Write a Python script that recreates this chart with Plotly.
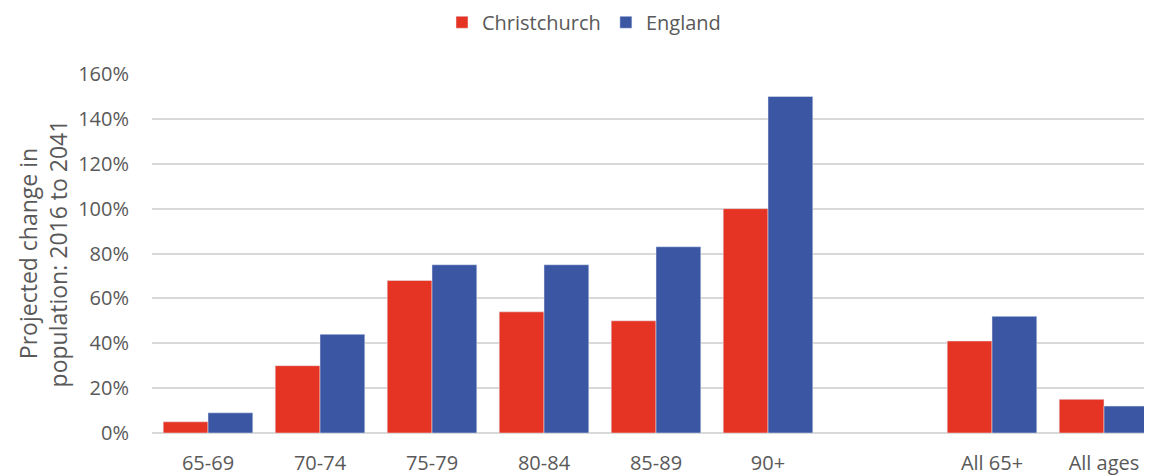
import plotly.graph_objects as go

# age groups, with an empty slot before the totals
grupos = ["65-69", "70-74", "75-79", "80-84", "85-89", "90+", " ", "All 65+", "All ages"]
christchurch = [5, 30, 68, 54, 50, 100, None, 41, 15]
england = [9, 44, 75, 75, 83, 150, None, 52, 12]
y_ticks = [0, 20, 40, 60, 80, 100, 120, 140, 160]

fonte = dict(family="Open Sans, sans-serif", color="#595959")

fig = go.Figure()
fig.add_trace(go.Bar(x=grupos, y=christchurch, name="Christchurch",
                     marker=dict(color="#E63424")))
fig.add_trace(go.Bar(x=grupos, y=england, name="England",
                     marker=dict(color="#3B56A3")))

fig.update_layout(
    width=1152, height=475,
    barmode="group", bargap=0.2, bargroupgap=0,
    plot_bgcolor="white", paper_bgcolor="white",
    margin=dict(l=144, r=0, t=66, b=50, autoexpand=False),
    font=dict(size=20, **fonte),
    legend=dict(orientation="h", x=0.5, xanchor="center", xref="container",
                y=0.97, yanchor="middle", yref="container",
                font=dict(size=20, **fonte), itemwidth=30),
    xaxis=dict(type="category", categoryorder="array", categoryarray=grupos,
               showgrid=False, showline=False, ticks="", ticklabelstandoff=16,
               tickfont=dict(size=20, **fonte)),
    yaxis=dict(range=[0, 160], tickvals=y_ticks, ticktext=[f"{v}%" for v in y_ticks],
               gridcolor="#D9D9D9", gridwidth=1.5, zeroline=True, zerolinecolor="#D9D9D9",
               zerolinewidth=1.5, tickfont=dict(size=20, **fonte), ticklabelstandoff=22,
               title=dict(text="Projected change in<br>population: 2016 to 2041",
                          font=dict(size=23, **fonte), standoff=4)),
)

fig.write_html("out.html")
